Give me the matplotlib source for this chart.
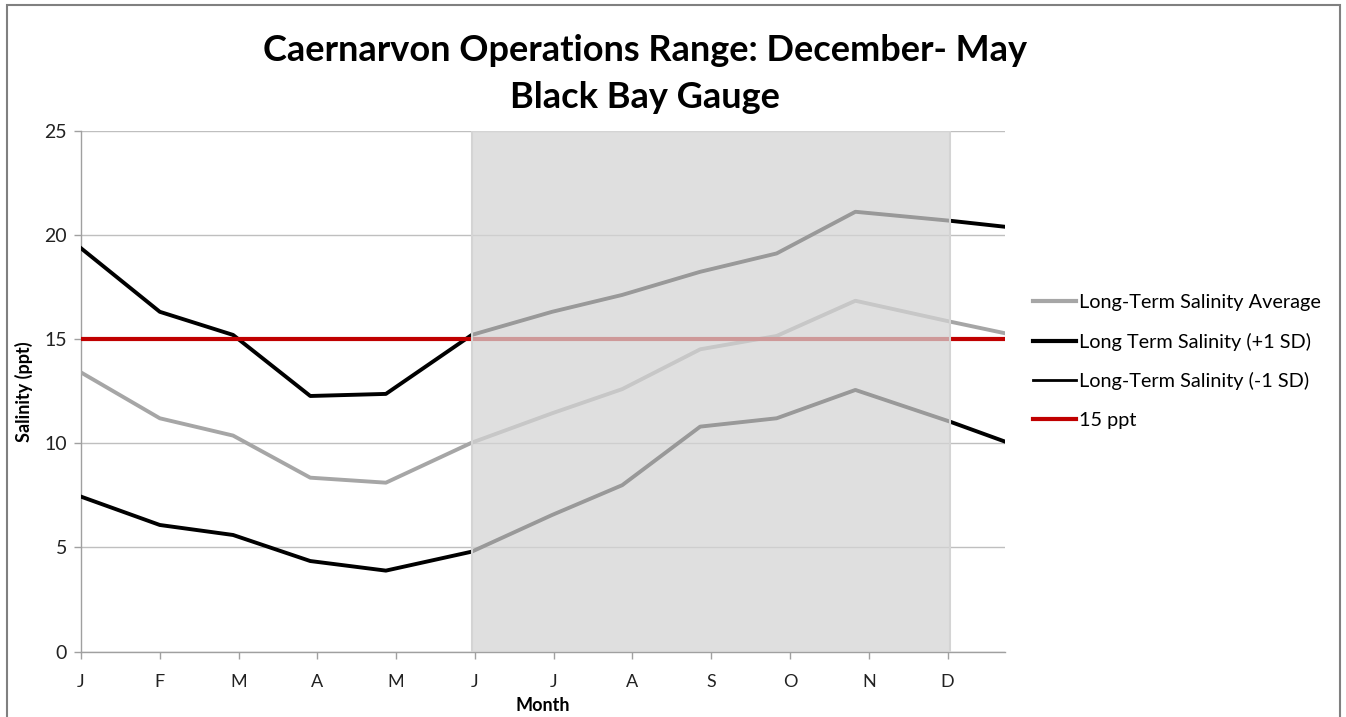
import matplotlib
matplotlib.use("Agg")
import matplotlib.pyplot as plt
from matplotlib.patches import Rectangle
from matplotlib.lines import Line2D

plt.rcParams['font.family'] = ['Lato', 'DejaVu Sans']

# Data (x in month units, 0 = January)
month_pos = [0.0, 1.0, 1.93, 2.91, 3.87, 4.96, 5.98, 6.87, 7.86, 8.83, 9.83, 11.03, 11.73]
avg_vals = [13.4, 11.2, 10.37, 8.35, 8.11, 10.03, 11.44, 12.6, 14.51, 15.15, 16.84, 15.84, 15.28]
plus_sd = [19.36, 16.31, 15.2, 12.27, 12.37, 15.2, 16.31, 17.12, 18.23, 19.11, 21.11, 20.68, 20.39]
minus_sd = [7.44, 6.08, 5.6, 4.35, 3.89, 4.8, 6.56, 7.99, 10.8, 11.2, 12.56, 11.04, 10.08]
threshold = 15
month_labels = ['J', 'F', 'M', 'A', 'M', 'J', 'J', 'A', 'S', 'O', 'N', 'D']
ops_start, ops_end = 4.96, 11.03
x_max = 11.73

fig = plt.figure(figsize=(13.46, 7.17), dpi=100)
ax = fig.add_axes([0.0602, 0.0911, 0.7467 - 0.0602, 0.8177 - 0.0911])

ax.plot(month_pos, avg_vals, color='#a6a6a6', lw=2.8, zorder=3, solid_joinstyle='round')
ax.plot(month_pos, plus_sd, color='#000000', lw=2.8, zorder=3, solid_joinstyle='round')
ax.plot(month_pos, minus_sd, color='#000000', lw=2.8, zorder=3, solid_joinstyle='round')
ax.axhline(threshold, color='#c00000', lw=3.0, zorder=3)

ax.add_patch(Rectangle((ops_start, 0), ops_end - ops_start, 25,
                       facecolor=(212/255, 212/255, 212/255, 0.725),
                       edgecolor='#d4d4d4', lw=1.5, zorder=4))

ax.set_xlim(0, x_max)
ax.set_ylim(0, 25)
ax.set_yticks([0, 5, 10, 15, 20, 25])
ax.set_xticks(range(12))
ax.set_xticklabels(month_labels)
ax.grid(axis='y', color='#bfbfbf', lw=1.0, zorder=1)
ax.set_axisbelow(True)
for s in ['top', 'right']:
    ax.spines[s].set_visible(False)
for s in ['left', 'bottom']:
    ax.spines[s].set_color('#a0a0a0')
    ax.spines[s].set_linewidth(1.0)
ax.tick_params(axis='both', colors='#a0a0a0', length=5, width=1.0, labelcolor='#222222')
ax.tick_params(axis='y', labelsize=14, pad=5)
ax.tick_params(axis='x', labelsize=13, pad=11)

ax.set_ylabel('Salinity (ppt)', fontsize=13, fontweight='bold', labelpad=8)
ax.set_xlabel('Month', fontsize=13, fontweight='bold', labelpad=5)

fig.text(0.4795, 0.929, 'Caernarvon Operations Range: December- May', ha='center', va='center',
         fontsize=26, fontweight='bold')
fig.text(0.4795, 0.864, 'Black Bay Gauge', ha='center', va='center',
         fontsize=26, fontweight='bold')

handles = [Line2D([], [], color='#a6a6a6', lw=3.0),
           Line2D([], [], color='#000000', lw=3.0),
           Line2D([], [], color='#000000', lw=2.0),
           Line2D([], [], color='#c00000', lw=3.0)]
labels = ['Long-Term Salinity Average', 'Long Term Salinity (+1 SD)',
          'Long-Term Salinity (-1 SD)', '15 ppt']
fig.legend(handles, labels, loc='center left', bbox_to_anchor=(0.754, 0.496),
           frameon=False, fontsize=14.3, handlelength=2.2, handletextpad=0.15,
           labelspacing=1.08)

fig.add_artist(Rectangle((7/1346, -0.05), (1340 - 7)/1346, 1 - 5/717 + 0.05,
                         transform=fig.transFigure, fill=False,
                         edgecolor='#808080', lw=1.5))

fig.savefig('out.png', dpi=100)
